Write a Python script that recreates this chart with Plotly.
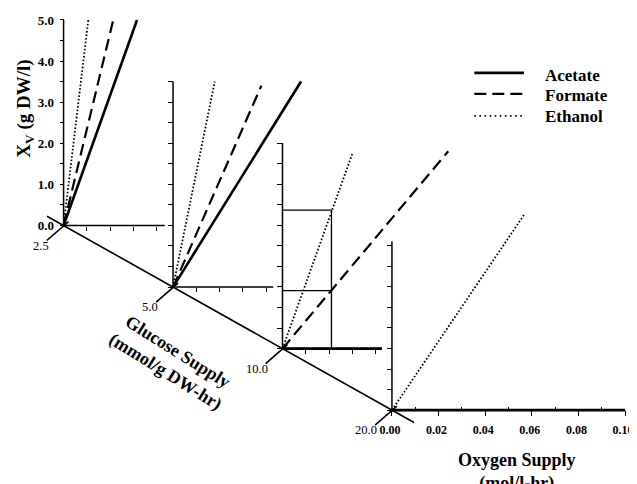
import math
import plotly.graph_objects as go

# The page places the figure 8 px in from the window's top-left corner,
# so the figure is drawn 8 px smaller and every reference pixel is shifted by OFF.
OFF = 8
FW, FH = 637 - OFF, 484 - OFF

# ---------------- data ----------------
glucose = [2.5, 5.0, 10.0, 20.0]                 # mmol/g DW-hr (one panel each)
glucose_labels = ["2.5", "5.0", "10.0", "20.0"]
glucose_axis_ends = [2.25, 23.0]

# each panel: oxygen supply (mol/l-hr) vs Xv (g DW/l)
acetate_o2 = [[0.0, 0.0315], [0.0, 0.0549], [0.0, 0.0426], [0.0, 0.100]]
acetate_xv = [[0.0, 5.0], [0.0, 5.0], [0.0, 0.0], [0.0, 0.0]]
formate_o2 = [[0.0, 0.0213], [0.0, 0.0379], [0.0, 0.0711], []]
formate_xv = [[0.0, 5.0], [0.0, 4.9], [0.0, 4.8], []]
ethanol_o2 = [[0.0, 0.0106], [0.0, 0.0179], [0.0, 0.0302], [0.0, 0.057]]
ethanol_xv = [[0.0, 5.0], [0.0, 5.0], [0.0, 4.78], [0.0, 4.78]]

# reading guides in the 10.0 panel
guide_panel = 2
guide_o2 = 0.021
guide_xv = [3.37, 1.41]

xv_major = [0.0, 1.0, 2.0, 3.0, 4.0, 5.0]
xv_major_labels = ["0.0", "1.0", "2.0", "3.0", "4.0", "5.0"]
xv_minor = [0.5, 1.5, 2.5, 3.5, 4.5]
xv_all = [0.0, 0.5, 1.0, 1.5, 2.0, 2.5, 3.0, 3.5, 4.0, 4.5, 5.0]
o2_ticks_short = [0.01, 0.02, 0.03, 0.04]
o2_major = [0.00, 0.02, 0.04, 0.06, 0.08, 0.10]
o2_major_labels = ["0.00", "0.02", "0.04", "0.06", "0.08", "0.10"]
o2_minor = [0.01, 0.03, 0.05, 0.07, 0.09]
panel_o2_end = [0.0434, 0.043, 0.0426, 0.100]
panel_xv_end = [5.0, 5.0, 5.0, 4.1]

series_names = ["Acetate", "Formate", "Ethanol"]

# ---------------- geometry (reference pixels) ----------------
G_X0, G_Y0 = 59.0, 225.0       # pixel position of the 2.5 panel origin
DX, DY = 366.5, 204.85         # pixels per decade of glucose (x, y)
SX, SY = 2350.0, 41.2          # pixels per unit oxygen / per unit Xv
XMIN, XMAX = -0.003, 0.105
YMIN, YMAX = -0.25, 5.15
L0 = math.log10(2.5)


def gx(g):
    return G_X0 + DX * (math.log10(g) - L0)


def gy(g):
    return G_Y0 + DY * (math.log10(g) - L0)


def px(x):            # reference pixel x -> paper fraction
    return (x - OFF) / FW


def py(y):            # reference pixel y -> paper fraction
    return 1 - (y - OFF) / FH


FONT = "Liberation Serif"
BLACK = "#000000"
styles = {
    "Acetate": dict(color=BLACK, width=2.6),
    "Formate": dict(color=BLACK, width=2.2, dash="12px,6px"),
    "Ethanol": dict(color=BLACK, width=1.8, dash="1.6px,2px"),
}

fig = go.Figure()
layout = {}
shapes = []

for i, g in enumerate(glucose):
    n = i + 1
    sfx = "" if n == 1 else str(n)
    ox, oy = gx(g), gy(g)
    xa = dict(
        domain=[max(0.0, px(ox + SX * XMIN)), min(1.0, px(ox + SX * XMAX))],
        range=[XMIN, XMAX], anchor="free", position=py(oy),
        showline=False, showgrid=False, zeroline=False,
        ticks="outside", ticklen=4, tickwidth=1.3, tickcolor=BLACK,
        tickmode="array", tickvals=o2_ticks_short, showticklabels=False,
        fixedrange=True,
    )
    if n == 4:
        xa.update(
            tickvals=o2_major, ticktext=o2_major_labels, ticklen=5,
            showticklabels=True, ticklabelstandoff=3, ticklabelshift=-2,
            tickfont=dict(family=FONT, size=12, color=BLACK, weight="bold"),
            minor=dict(tickmode="array", tickvals=o2_minor, ticks="inside",
                       ticklen=3, tickwidth=1.2, tickcolor=BLACK),
        )
    ya = dict(
        domain=[py(oy - SY * YMIN), py(oy - SY * YMAX)],
        range=[YMIN, YMAX], anchor="free", position=px(ox),
        showline=False, showgrid=False, zeroline=False,
        ticks="outside", ticklen=5, tickwidth=1.3, tickcolor=BLACK,
        tickmode="array",
        tickvals=[t for t in xv_all if t <= panel_xv_end[i] + 1e-9],
        showticklabels=False, fixedrange=True,
    )
    if n == 1:
        ya.update(
            tickvals=xv_major, ticktext=xv_major_labels, showticklabels=True,
            ticklen=4, ticklabelstandoff=3,
            tickfont=dict(family=FONT, size=13, color=BLACK, weight="bold"),
            minor=dict(tickmode="array", tickvals=xv_minor, ticks="outside",
                       ticklen=4, tickwidth=1.3, tickcolor=BLACK),
        )
    layout["xaxis" + sfx] = xa
    layout["yaxis" + sfx] = ya

    xr, yr = "x" + sfx, "y" + sfx
    # axis lines of the panel
    shapes.append(dict(type="line", xref=xr, yref=yr, x0=0, y0=0, x1=0,
                       y1=panel_xv_end[i], line=dict(color=BLACK, width=1.5)))
    shapes.append(dict(type="line", xref=xr, yref=yr, x0=0, y0=0,
                       x1=panel_o2_end[i], y1=0, line=dict(color=BLACK, width=1.5)))

    # series
    series = [
        ("Acetate", acetate_o2[i], acetate_xv[i]),
        ("Formate", formate_o2[i], formate_xv[i]),
        ("Ethanol", ethanol_o2[i], ethanol_xv[i]),
    ]
    for name, xs, ys in series:
        if not xs:
            continue
        fig.add_trace(go.Scatter(
            x=xs, y=ys, mode="lines", name=name, showlegend=False,
            line=styles[name], xaxis=xr, yaxis=yr, hoverinfo="skip",
        ))

    if i == guide_panel:
        gxs = [0, guide_o2, guide_o2, None, 0, guide_o2]
        gys = [guide_xv[0], guide_xv[0], 0, None, guide_xv[1], guide_xv[1]]
        fig.add_trace(go.Scatter(
            x=gxs, y=gys, mode="lines", showlegend=False,
            line=dict(color=BLACK, width=1.3), xaxis=xr, yaxis=yr,
            hoverinfo="skip",
        ))

# ------------- glucose (diagonal) axis on an overlay log/log subplot -------------
gx0f, gy0f = G_X0 - OFF, G_Y0 - OFF
layout["xaxis5"] = dict(domain=[0, 1], type="log",
                        range=[L0 - gx0f / DX, L0 + (FW - gx0f) / DX],
                        visible=False, anchor="y5", fixedrange=True)
layout["yaxis5"] = dict(domain=[0, 1], type="log",
                        range=[L0 + (FH - gy0f) / DY, L0 - gy0f / DY],
                        visible=False, anchor="x5", fixedrange=True)

fig.add_trace(go.Scatter(
    x=glucose_axis_ends, y=glucose_axis_ends, mode="lines", showlegend=False,
    line=dict(color=BLACK, width=1.6), xaxis="x5", yaxis="y5", hoverinfo="skip",
))

tick_x, tick_y = [], []
for g in glucose:
    for dxp, dyp in [(-17, 15), (5, -4)]:
        tick_x.append(g * 10 ** (dxp / DX))
        tick_y.append(g * 10 ** (dyp / DY))
    tick_x.append(None)
    tick_y.append(None)
fig.add_trace(go.Scatter(
    x=tick_x, y=tick_y, mode="lines", showlegend=False,
    line=dict(color=BLACK, width=1.6), xaxis="x5", yaxis="y5", hoverinfo="skip",
))

annotations = []
for g, lab in zip(glucose, glucose_labels):
    annotations.append(dict(
        x=math.log10(g), y=math.log10(g), xref="x5", yref="y5", text=lab,
        showarrow=False, xanchor="right", yanchor="middle", xshift=-13, yshift=-20,
        font=dict(family=FONT, size=12.5, color=BLACK),
    ))

# titles
annotations.append(dict(
    x=px(20), y=py(108), xref="paper", yref="paper",
    text="X<sub>V</sub> (g DW/l)", textangle=-90, showarrow=False,
    xanchor="center", yanchor="middle",
    font=dict(family=FONT, size=19, color=BLACK, weight="bold"),
))
annotations.append(dict(
    x=px(168), y=py(362), xref="paper", yref="paper",
    text="Glucose Supply<br>(mmol/g DW-hr)", textangle=32, showarrow=False,
    xanchor="center", yanchor="middle",
    font=dict(family=FONT, size=18, color=BLACK, weight="bold"),
))
annotations.append(dict(
    x=px(516), y=py(448), xref="paper", yref="paper",
    text="Oxygen Supply<br>(mol/l-hr)", showarrow=False,
    xanchor="center", yanchor="top",
    font=dict(family=FONT, size=18, color=BLACK, weight="bold"),
))

# legend (drawn as line samples + text, rows 20 px apart as in the reference)
leg_line_x = [473, 523]
leg_line_y = [72, 93, 115]
leg_text_y = [75, 95, 116]
for name, ly, ty in zip(series_names, leg_line_y, leg_text_y):
    st = dict(styles[name])
    if name == "Ethanol":
        st["dash"] = "1.6px,3.5px"
    shapes.append(dict(type="line", xref="paper", yref="paper",
                       x0=px(leg_line_x[0]), x1=px(leg_line_x[1]),
                       y0=py(ly), y1=py(ly), line=st))
    annotations.append(dict(
        x=px(542), y=py(ty), xref="paper", yref="paper", text=name,
        showarrow=False, xanchor="left", yanchor="middle",
        font=dict(family=FONT, size=17, color=BLACK, weight="bold"),
    ))

fig.update_layout(
    width=FW, height=FH, margin=dict(l=0, r=0, t=0, b=0),
    paper_bgcolor="white", plot_bgcolor="rgba(0,0,0,0)",
    showlegend=False,
    shapes=shapes, annotations=annotations,
    **layout,
)

fig.write_html("out.html")
